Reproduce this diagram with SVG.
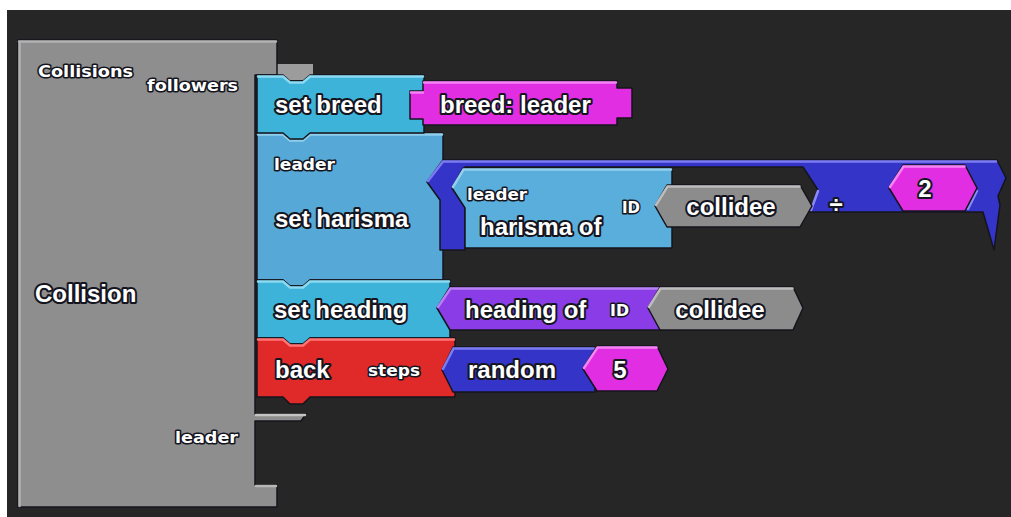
<svg xmlns="http://www.w3.org/2000/svg" width="1011" height="517" viewBox="0 0 1011 517">
<style>
.big{font-family:"Liberation Sans",Arial,sans-serif;font-weight:bold;font-size:24px;fill:#fff;stroke:#151520;stroke-width:4;stroke-linejoin:round;paint-order:stroke}
.sm{font-family:"DejaVu Sans",sans-serif;font-weight:bold;font-size:16px;fill:#fff;stroke:#151520;stroke-width:3;stroke-linejoin:round;paint-order:stroke}
.blk{stroke:#14141c;stroke-width:1.5;stroke-linejoin:round}
.hl{fill:none;stroke-width:2.5;stroke-linecap:round}
</style>
<rect x="0" y="0" width="1011" height="517" fill="#ffffff"/>
<rect x="7" y="10" width="1004" height="507" fill="#262626"/>

<g id="collision">
<path d="M277,64 H313 V80 H277 Z" fill="#9c9c9c"/>
<path class="blk" d="M18,40 H277 V75 H255 V414 H306 L301,421 H255 V485 H277 V507 H18 Z" fill="#8e8e8e"/>
<path class="hl" d="M19,41.5 H276 M19.5,42 V506" stroke="#b2b2b2"/>
<path class="hl" d="M256,415 H305" stroke="#c4c4c4"/>
<path class="hl" d="M256,486 H276" stroke="#b8b8b8"/>
<text class="sm" x="38" y="77" font-size="17" textLength="95" lengthAdjust="spacingAndGlyphs">Collisions</text>
<text class="sm" x="147" y="91" textLength="91" lengthAdjust="spacingAndGlyphs">followers</text>
<text class="big" x="35" y="302">Collision</text>
<text class="sm" x="175" y="443" textLength="63" lengthAdjust="spacingAndGlyphs">leader</text>
</g>

<g id="set-harisma">
<path class="blk" d="M257,133 H283 L290,139 H303 L310,133 H443 V280 H310 L303,286 H290 L283,280 H257 Z" fill="#56a9d6"/>
<path class="hl" d="M258,134.5 H283 L290,140.5 H303 L310,134.5 H442" stroke="#8fcdec"/>
<text class="sm" x="274" y="170" textLength="61" lengthAdjust="spacingAndGlyphs">leader</text>
<text class="big" x="275" y="227">set harisma</text>
</g>

<g id="set-breed">
<path class="blk" d="M257,75 H283 L290,81 H303 L310,75 H424 V133 H310 L303,139 H290 L283,133 H257 Z" fill="#3db3d9"/>
<path class="hl" d="M258,76.5 H283 L290,82.5 H303 L310,76.5 H423" stroke="#8cdaf2"/>
<text class="big" x="275" y="113">set breed</text>
</g>

<g id="breed-leader">
<path class="blk" d="M423,81 H617 V88 H632 V118 H617 V125 H423 V119 H410 V91 H423 Z" fill="#e22ee2"/>
<path class="hl" d="M424,82.5 H616 M411,92.5 H423" stroke="#f584f5"/>
<text class="big" x="440" y="113">breed: leader</text>
</g>

<g id="divide">
<path class="blk" d="M443,160 H997 L1006,178 L998,196 L1000,205 L994,250 L983,212 H810 L818,190 L803,167 H465 V250 H440 V200 L427,182 Z" fill="#3434c8"/>
<path class="hl" d="M428,181 L443,161.5 H996" stroke="#7c7cf2"/>
<path class="hl" d="M818,191 L811,210 M977,191 L968,209" stroke="#8a8af5"/>
<text class="big" x="836" y="213" text-anchor="middle" font-size="20">÷</text>
</g>

<g id="harisma-of">
<path class="blk" d="M463,168 H672 V248 H465 V208 L452,188 Z" fill="#5aaedc"/>
<path class="hl" d="M453,187 L463.5,169.5 H671" stroke="#94d0ee"/>
<text class="sm" x="467" y="200" textLength="60" lengthAdjust="spacingAndGlyphs">leader</text>
<text class="big" x="480" y="235">harisma of</text>
<text class="sm" x="622" y="213" textLength="18" lengthAdjust="spacingAndGlyphs">ID</text>
</g>

<g id="collidee-1">
<polygon class="blk" points="655,206 667,185 800,185 812,206 800,227 667,227" fill="#8c8c8c"/>
<path class="hl" d="M656,205 L667.5,186.5 H799.5" stroke="#bdbdbd"/>
<text class="big" x="731" y="215" text-anchor="middle">collidee</text>
</g>

<g id="num-2">
<polygon class="blk" points="889,188 903,165 965,165 977,188 965,211 903,211" fill="#e22ee2"/>
<path class="hl" d="M890,187 L903.5,166.5 H964.5" stroke="#f584f5"/>
<text class="big" x="925" y="197" text-anchor="middle">2</text>
</g>

<g id="set-heading">
<path class="blk" d="M257,280 H283 L290,286 H303 L310,280 H450 V338 H310 L303,344 H290 L283,338 H257 Z" fill="#3db3d9"/>
<path class="hl" d="M258,281.5 H283 L290,287.5 H303 L310,281.5 H449" stroke="#8cdaf2"/>
<text class="big" x="274" y="318">set heading</text>
</g>

<g id="heading-of">
<path class="blk" d="M450,287 H662 V330 H450 L437,308 Z" fill="#8a3de6"/>
<path class="hl" d="M438,307 L450.5,288.5 H661" stroke="#b881f5"/>
<text class="big" x="465" y="318">heading of</text>
<text class="sm" x="610" y="316" textLength="19" lengthAdjust="spacingAndGlyphs">ID</text>
</g>

<g id="collidee-2">
<polygon class="blk" points="648,308 660,287 793,287 803,308 793,330 660,330" fill="#8c8c8c"/>
<path class="hl" d="M649,307 L660.5,288.5 H792.5" stroke="#bdbdbd"/>
<text class="big" x="720" y="318" text-anchor="middle">collidee</text>
</g>

<g id="back">
<path class="blk" d="M257,338 H283 L290,344 H303 L310,338 H455 V397 H310 L303,404 H290 L283,397 H257 Z" fill="#e02a2a"/>
<path class="hl" d="M258,339.5 H283 L290,345.5 H303 L310,339.5 H454" stroke="#ff7474"/>
<text class="big" x="275" y="378">back</text>
<text class="sm" x="368" y="376" textLength="52" lengthAdjust="spacingAndGlyphs">steps</text>
</g>

<g id="random">
<path class="blk" d="M453,347 H595 V392 H453 L442,370 Z" fill="#3434c8"/>
<path class="hl" d="M443,369 L453.5,348.5 H594" stroke="#7c7cf2"/>
<text class="big" x="468" y="378">random</text>
</g>

<g id="num-5">
<polygon class="blk" points="583,369 597,346 657,346 668,369 657,391 597,391" fill="#e22ee2"/>
<path class="hl" d="M584,368 L597.5,347.5 H656.5" stroke="#f584f5"/>
<text class="big" x="620" y="378" text-anchor="middle">5</text>
</g>

<g id="connectors"></g>
</svg>
